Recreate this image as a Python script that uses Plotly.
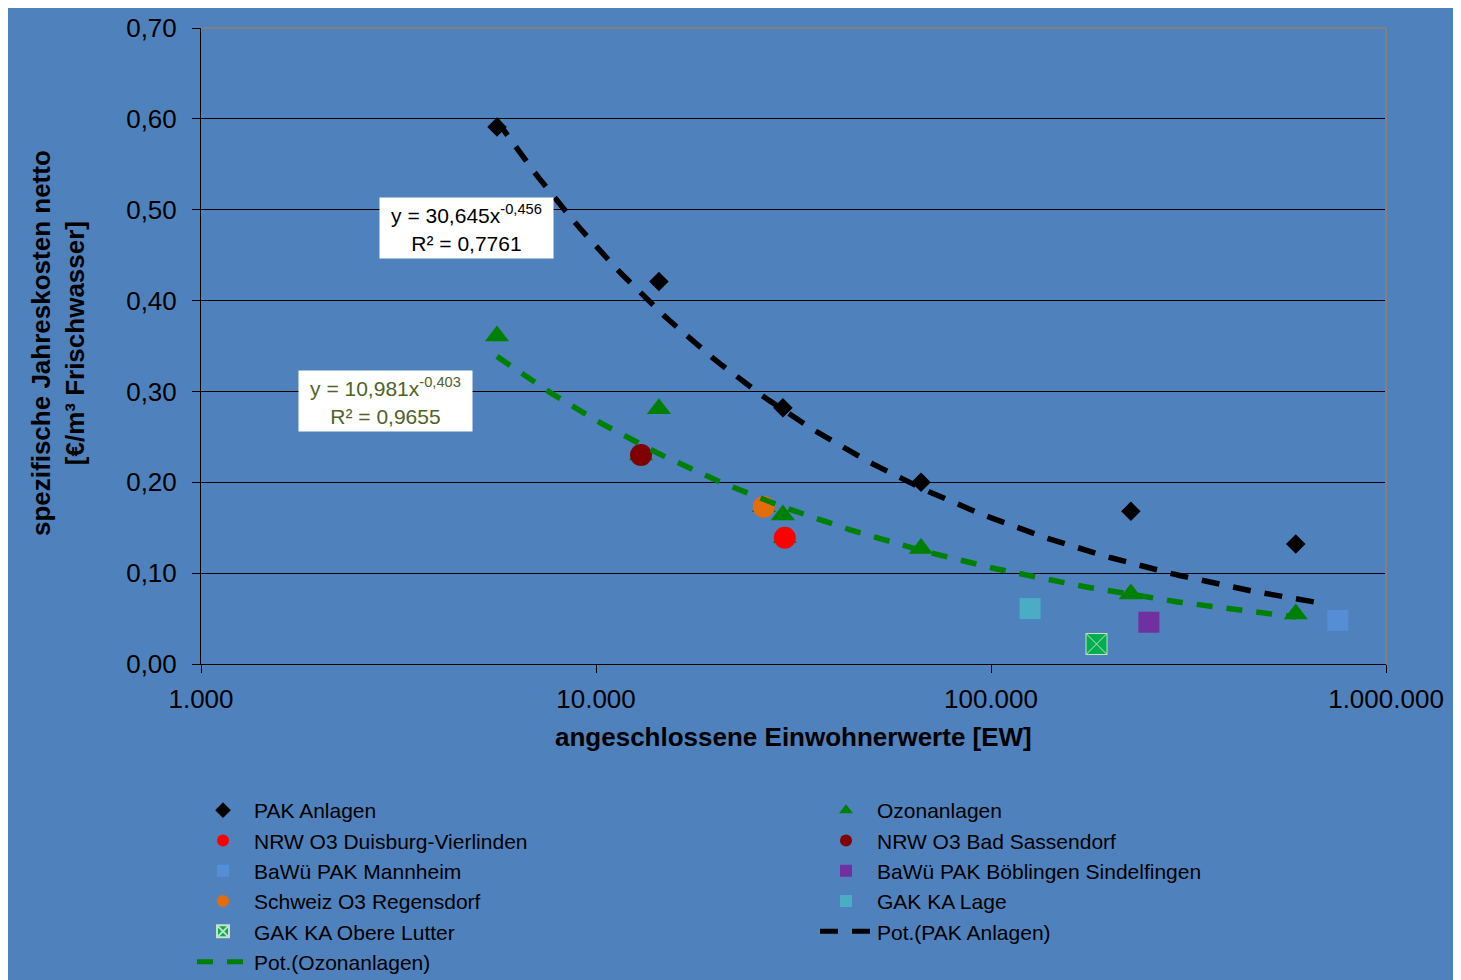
import numpy as np
import plotly.graph_objects as go

# ---------------- data ----------------
pak_x = [5615, 14430, 29730, 66500, 226000, 591000]
pak_y = [0.591, 0.421, 0.282, 0.200, 0.168, 0.132]

ozon_x = [5615, 14430, 13000, 29730, 30060, 26600, 66500, 226000, 591000]
ozon_y = [0.361, 0.281, 0.230, 0.164, 0.139, 0.173, 0.127, 0.077, 0.055]

duisburg_x = [30060]
duisburg_y = [0.139]
sassendorf_x = [13000]
sassendorf_y = [0.230]
mannheim_x = [755000]
mannheim_y = [0.048]
boeblingen_x = [251000]
boeblingen_y = [0.046]
regensdorf_x = [26600]
regensdorf_y = [0.173]
lage_x = [125600]
lage_y = [0.061]
lutter_x = [185000]
lutter_y = [0.022]

# power trendlines (coefficients as shown in the chart)
pak_a, pak_b = 30.645, -0.456
ozon_a, ozon_b = 10.981, -0.403
pak_trend_range = [5615, 705000]
ozon_trend_range = [5615, 591000]

x_tickvals = [1000, 10000, 100000, 1000000]
x_ticktext = ["1.000", "10.000", "100.000", "1.000.000"]
y_tickvals = [0.0, 0.1, 0.2, 0.3, 0.4, 0.5, 0.6, 0.7]

# ---------------- layout helpers ----------------
OFF = 8                      # page offset of the figure (body margin)
W, H = 1461 - OFF, 980 - OFF
L, R, T, B = 201 - OFF, 1386 - OFF, 28 - OFF, 664 - OFF
def px(x):                   # page x -> paper fraction
    return (x - OFF - L) / (R - L)
def py(y):                   # page y -> paper fraction
    return (B - (y - OFF)) / (B - T)

FONT = "Liberation Sans, Arial, sans-serif"
BLUE = "#4F81BD"

fig = go.Figure()

def add_markers(x, y, name, marker, legend):
    fig.add_trace(go.Scatter(x=x, y=y, mode="markers", name=name, marker=marker, legend=legend))

add_markers(pak_x, pak_y, "PAK Anlagen",
            dict(symbol="diamond", size=15, color="black"), "legend")
add_markers(ozon_x, ozon_y, "Ozonanlagen",
            dict(symbol="triangle-up", size=21, color="#008000"), "legend2")
add_markers(duisburg_x, duisburg_y, "NRW O3 Duisburg-Vierlinden",
            dict(symbol="circle", size=22, color="#FF0000"), "legend")
add_markers(sassendorf_x, sassendorf_y, "NRW O3 Bad Sassendorf",
            dict(symbol="circle", size=22, color="#800000"), "legend2")
add_markers(mannheim_x, mannheim_y, "BaWü PAK Mannheim",
            dict(symbol="square", size=21, color="#558ED5"), "legend")
add_markers(boeblingen_x, boeblingen_y, "BaWü PAK Böblingen Sindelfingen",
            dict(symbol="square", size=21, color="#7030A0"), "legend2")
add_markers(regensdorf_x, regensdorf_y, "Schweiz O3 Regensdorf",
            dict(symbol="circle", size=22, color="#E46C0A"), "legend")
add_markers(lage_x, lage_y, "GAK KA Lage",
            dict(symbol="square", size=21, color="#4BACC6"), "legend2")
add_markers(lutter_x, lutter_y, "GAK KA Obere Lutter",
            dict(symbol="square-x", size=21, color="#00B050",
                 line=dict(color="#C8E0C8", width=1)), "legend")

tx = np.geomspace(pak_trend_range[0], pak_trend_range[1], 120)
fig.add_trace(go.Scatter(x=tx, y=pak_a * tx ** pak_b, mode="lines", name="Pot.(PAK Anlagen)",
                         line=dict(color="black", width=5.5, dash="18px,14px"), legend="legend2"))
tx2 = np.geomspace(ozon_trend_range[0], ozon_trend_range[1], 120)
fig.add_trace(go.Scatter(x=tx2, y=ozon_a * tx2 ** ozon_b, mode="lines", name="Pot.(Ozonanlagen)",
                         line=dict(color="#008000", width=5.5, dash="16px,14px"), legend="legend"))

legend_common = dict(orientation="v", yanchor="top", xanchor="left",
                     bgcolor="rgba(0,0,0,0)", font=dict(size=21, family=FONT),
                     itemsizing="constant", itemwidth=52, traceorder="normal")

fig.update_layout(
    width=W, height=H,
    margin=dict(l=L, r=W - R, t=T, b=H - B, autoexpand=False),
    paper_bgcolor=BLUE, plot_bgcolor=BLUE,
    font=dict(family=FONT, color="black", size=20),
    separators=",.",
    xaxis=dict(type="log", range=[3, 6], tickvals=x_tickvals, ticktext=x_ticktext,
               showgrid=False, zeroline=False, showline=True, linecolor="black", linewidth=1,
               ticks="outside", ticklen=8, tickcolor="black", tickfont=dict(size=26),
               ticklabelstandoff=4, automargin=False),
    yaxis=dict(range=[0, 0.7], tickvals=y_tickvals, tickformat=".2f",
               showgrid=True, gridcolor="black", gridwidth=1, zeroline=False,
               showline=True, linecolor="black", linewidth=1,
               ticks="outside", ticklen=8, tickcolor="black", tickfont=dict(size=26),
               ticklabelstandoff=10, automargin=False),
    showlegend=True,
    legend=dict(x=px(192), y=py(790), **legend_common),
    legend2=dict(x=px(815), y=py(790), **legend_common),
)

# plot-area border (top/right grey)
fig.add_shape(type="line", xref="paper", yref="paper", x0=0, x1=1, y0=1, y1=1,
              line=dict(color="#808080", width=2))
fig.add_shape(type="line", xref="paper", yref="paper", x0=1, x1=1, y0=0, y1=1,
              line=dict(color="#808080", width=2))

# axis titles
fig.add_annotation(xref="paper", yref="paper", x=px(793), y=py(737), showarrow=False,
                   text="<b>angeschlossene Einwohnerwerte [EW]</b>", font=dict(size=26),
                   xanchor="center", yanchor="middle")
fig.add_annotation(xref="paper", yref="paper", x=px(58), y=py(343), showarrow=False,
                   text="<b>spezifische Jahreskosten netto<br>[€/m³ Frischwasser]</b>",
                   font=dict(size=26), textangle=-90, xanchor="center", yanchor="middle")

# trendline equations
fig.add_annotation(xref="paper", yref="paper", x=px(466), y=py(228), showarrow=False,
                   text="y = 30,645x<sup>-0,456</sup><br>R² = 0,7761",
                   font=dict(size=21, color="black"), bgcolor="white", borderpad=3,
                   width=167, height=54, xanchor="center", yanchor="middle")
fig.add_annotation(xref="paper", yref="paper", x=px(385), y=py(401), showarrow=False,
                   text="y = 10,981x<sup>-0,403</sup><br>R² = 0,9655",
                   font=dict(size=21, color="#4F6228"), bgcolor="white", borderpad=3,
                   width=167, height=54, xanchor="center", yanchor="middle")

fig.write_html("out.html")
